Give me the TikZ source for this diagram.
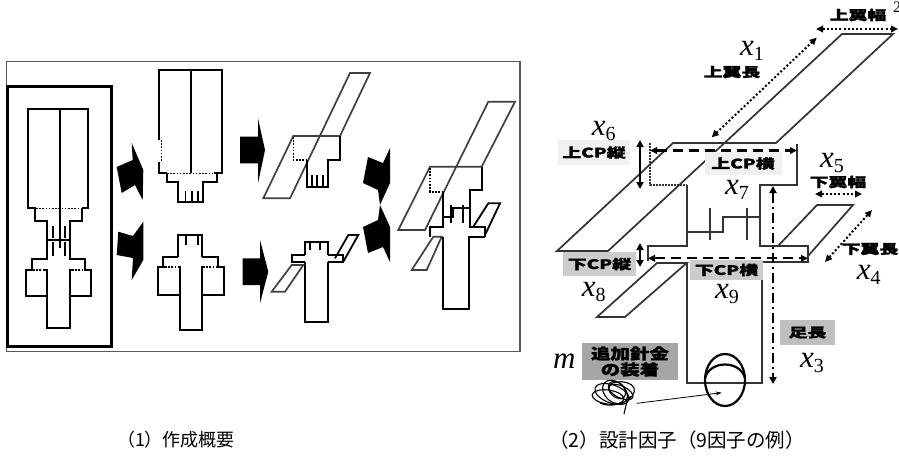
\documentclass[tikz,border=0pt]{standalone}
\usepackage{fontspec}
\setmainfont{Liberation Serif}
\newfontfamily\jp{Noto Sans CJK JP}
\newfontfamily\jpb{Noto Sans CJK JP}[BoldFeatures={FakeBold=1.6}]
\usetikzlibrary{arrows.meta}

% bold, widened Japanese label text
\newcommand\lbltxt[1]{\scalebox{1.45}[1]{\jpb\bfseries\fontsize{13}{13}\selectfont #1}}
\newcommand\biglbl[1]{\scalebox{1.3}[1]{\jpb\bfseries\fontsize{15}{15}\selectfont #1}}
% design variable x_i
\newcommand\xvar[1]{{\fontsize{31}{31}\selectfont\itshape x\raisebox{-5pt}{\fontsize{20}{20}\selectfont\upshape #1}}}

\tikzset{
  paper/.style={draw=black, line width=1.8, line join=miter},
  fold/.style={draw=black, line width=1.6, dash pattern=on 1.6pt off 1.6pt},
  wingln/.style={draw=black!75, line width=1.7},
  blk/.style={fill=black},
  body/.style={draw=black!80, line width=1.7},
  hid/.style={draw=black!80, line width=1.5, dash pattern=on 1.6pt off 1.4pt},
  dimdot/.style={line width=2, dash pattern=on 2pt off 2.2pt, <->, >={Triangle[length=7pt,width=6.5pt]}},
  dimdash/.style={line width=2.2, dash pattern=on 10pt off 6pt, <->, >={Triangle[length=7pt,width=6.5pt]}},
  dimsolid/.style={line width=2.2, <->, >={Triangle[length=7pt,width=7pt]}},
  dimchain/.style={line width=2.2, dash pattern=on 10pt off 4pt on 2pt off 4pt, <->, >={Triangle[length=7pt,width=7pt]}},
  tagbox/.style={inner sep=0pt, minimum height=#1},
}

\begin{document}
\begin{tikzpicture}[x=1pt, y=-1pt]
\useasboundingbox (0,0) rectangle (899,459);
\fill[white] (0,0) rectangle (899,459);

% ---------------- (1) overview panel ----------------
\draw[black!65, line width=1.2] (6.7,61.7) rectangle (520,351.7);
\draw[black, line width=3] (7.5,86.7) rectangle (111.7,346.7);

% unfolded sheet
\draw[paper] (36,208.3) -- (28.3,208.3) -- (28.3,109.3) -- (88.3,109.3) -- (88.3,208.3) -- (82,208.3);
\draw[fold] (36,208.3) -- (82,208.3);
\draw[paper] (60,109.3) -- (60,248);
\draw[paper] (35,208.3) -- (35,221) -- (46.7,221) -- (46.7,240) -- (70,240) -- (70,221) -- (81.7,221) -- (81.7,208.3);
\draw[paper] (46.7,240) -- (46.7,259.3) -- (31.7,259.3) -- (31.7,270);
\draw[paper] (70,240) -- (70,259.3) -- (85,259.3) -- (85,270);
\draw[paper] (33,270) -- (26,270) -- (26,296) -- (46.7,296) -- (46.7,270) -- (44,270);
\draw[fold] (33,270) -- (44,270);
\draw[paper] (84,270) -- (90.7,270) -- (90.7,296) -- (70,296) -- (70,270) -- (72,270);
\draw[fold] (72,270) -- (84,270);
\draw[paper] (46.7,296) -- (46.7,328.3) -- (70,328.3) -- (70,296);
\draw[paper] (53,226) -- (53,238) (65,226) -- (65,238) (53,242) -- (53,256) (65,242) -- (65,256);

% upper piece, cut out
\draw[paper] (159,140) -- (159,70) -- (221.7,70) -- (221.7,173.3) -- (214,173.3);
\draw[paper] (159,162) -- (159,173.3) -- (167,173.3);
\draw[fold] (161.5,140) -- (161.5,162);
\draw[fold] (167,173.3) -- (214,173.3);
\draw[paper] (191,70) -- (191,173.3);
\draw[paper] (166.7,173.3) -- (166.7,181.7) -- (178.3,181.7) -- (178.3,202) -- (203.3,202) -- (203.3,181.7) -- (216.7,181.7) -- (216.7,173.3);
\draw[paper] (185.5,191) -- (185.5,202) (191.7,191) -- (191.7,202) (198.3,191) -- (198.3,202);

% lower piece, cut out
\draw[paper] (178.3,256.7) -- (178.3,235) -- (201.7,235) -- (201.7,256.7);
\draw[paper] (178.3,256.7) -- (163.3,256.7) -- (163.3,266.7);
\draw[paper] (201.7,256.7) -- (218.3,256.7) -- (218.3,266.7);
\draw[paper] (165,266.7) -- (158.3,266.7) -- (158.3,295) -- (180,295) -- (180,266.7) -- (178,266.7);
\draw[fold] (165,266.7) -- (178,266.7);
\draw[paper] (217,266.7) -- (224,266.7) -- (224,295) -- (201.7,295) -- (201.7,266.7) -- (203,266.7);
\draw[fold] (203,266.7) -- (217,266.7);
\draw[paper] (180,295) -- (180,330) -- (201.7,330) -- (201.7,295);
\draw[paper] (186,235) -- (186,245) (198,235) -- (198,245);

% upper piece, folded
\draw[wingln] (370,73) -- (340,136) -- (293.3,136) -- (263.3,198.3) -- (290,198.3) -- (350,73) -- cycle;
\draw[paper] (340,136) -- (340,160) -- (328.3,160) -- (328.3,186.7) -- (306.7,186.7) -- (306.7,160);
\draw[fold] (293.3,137) -- (293.3,160) -- (306.7,160);
\draw[paper] (311.7,175) -- (311.7,186.7) (316.7,175) -- (316.7,186.7) (323.3,175) -- (323.3,186.7);

% lower piece, folded
\draw[paper] (305,255) -- (305,241.7) -- (328.3,241.7) -- (328.3,255);
\draw[paper] (305,255) -- (291.7,255) -- (291.7,261.7) -- (305,261.7);
\draw[paper] (305,261.7) -- (305,321.7) -- (328.3,321.7) -- (328.3,261.7);
\draw[paper] (328.3,255) -- (343,255) -- (343,261.7) -- (328.3,261.7);
\draw[wingln] (291.7,265) -- (303.3,265) -- (285,291.7) -- (271.7,291.7) -- cycle;
\draw[paper] (335,258.3) -- (348.3,235) -- (358.3,235) -- (343.3,261.7);
\draw[paper] (310,241.7) -- (310,250) (320,241.7) -- (320,250);

% assembled model
\draw[wingln] (515,101.7) -- (481.7,166.7) -- (430,166.7) -- (398.3,230) -- (425,230) -- (488.3,101.7) -- cycle;
\draw[paper] (481.7,166.7) -- (481.7,190) -- (470,190) -- (470,226.7) -- (485,226.7) -- (485,236.7);
\draw[fold] (430,168) -- (430,191.7) -- (443.3,191.7);
\draw[paper] (443.3,191.7) -- (443.3,226.7) -- (430,226.7) -- (430,236.7);
\draw[paper] (443.3,216.7) -- (453.3,216.7) -- (453.3,208.3) -- (470,208.3);
\draw[paper] (450.7,205) -- (450.7,223.3) (462.7,205) -- (462.7,223.3);
\draw[paper] (443.3,236.7) -- (443.3,309.3) -- (469.3,309.3) -- (469.3,236.7) -- (485,236.7);
\draw[wingln] (433.3,236.7) -- (441.7,236.7) -- (426.7,270) -- (411.7,270) -- cycle;
\draw[paper] (473.3,226.7) -- (488.3,203.3) -- (500,203.3) -- (485,235);

% block arrows
\fill[blk] (116.7,167) -- (132.7,160) -- (131.7,143) -- (143.3,170) -- (142.7,200) -- (135,185) -- (121.7,193) -- cycle;
\fill[blk] (118.3,231.7) -- (133,236) -- (143.3,221.7) -- (143.3,260) -- (131.7,280) -- (133,258) -- (116.7,255) -- cycle;
\fill[blk] (240,136.7) -- (258,136.7) -- (258,118.3) -- (265,150) -- (258,183.3) -- (258,163.3) -- (240,163.3) -- cycle;
\fill[blk] (242.7,258.3) -- (260,258.3) -- (260,240) -- (268.3,271.7) -- (260,303.3) -- (260,285) -- (242.7,285) -- cycle;
\fill[blk] (368,157) -- (383,163) -- (390,148) -- (390,183) -- (380,205) -- (378,190) -- (363,183) -- cycle;
\fill[blk] (363,227) -- (378,220) -- (380,205) -- (390,227) -- (390,262) -- (383,247) -- (368,253) -- cycle;

% ---------------- (2) design factors ----------------
% upper wing and upper chest plate
\draw[body] (893,34) -- (776,143) -- (673,143) -- (557,251) -- (608,251) -- (842,34) -- cycle;
\draw[body] (797,144) -- (797,185) -- (760,185) -- (760,246) -- (808,246) -- (808,261.7) -- (761.7,261.7);
\draw[hid] (650,143) -- (650,185) -- (686.7,185);
\draw[body] (686.7,185) -- (686.7,246) -- (648,246) -- (648,261);
% slits in the body
\draw[body] (686.7,231.7) -- (723,231.7) -- (723,216.7) -- (760,216.7);
\draw[body] (710,208) -- (710,240) (746.7,208) -- (746.7,240);
% lower wings
\draw[body] (778,246) -- (817,205) -- (853,205) -- (808,256);
\draw[body] (657,263) -- (686.7,263) -- (625,317) -- (597,317) -- cycle;
% leg
\draw[body] (686.7,263) -- (686.7,383) -- (761.7,383) -- (761.7,261.7);
% wire loop on the leg
\draw[line width=2.2] (725,380) ellipse [x radius=20, y radius=26];
\draw[line width=2.2] (705,378) .. controls (710,360) and (740,360) .. (745,378);

% dimension arrows
\coordinate (a1s) at (711.7,137.3); \coordinate (a1e) at (816.7,37.7);
\coordinate (a2s) at (816,29);      \coordinate (a2e) at (898,29);
\coordinate (a5s) at (815,194);     \coordinate (a5e) at (862,194);
\coordinate (a4s) at (825,262);     \coordinate (a4e) at (872,210);
\coordinate (a7s) at (650,150.5);   \coordinate (a7e) at (797,150.5);
\coordinate (a9s) at (648,258.3);   \coordinate (a9e) at (808,258.3);
\coordinate (a6s) at (640,140);     \coordinate (a6e) at (640,189);
\coordinate (a8s) at (640,243);     \coordinate (a8e) at (640,267);
\coordinate (a3s) at (773,186);     \coordinate (a3e) at (773,384);
\draw[dimdot] (a1s) -- (a1e);
\draw[dimdot] (a2s) -- (a2e);
\draw[dimdot] (a5s) -- (a5e);
\draw[dimdot] (a4s) -- (a4e);
\draw[dimdash] (a7s) -- (a7e);
\draw[dimdash] (a9s) -- (a9e);
\draw[dimsolid] (a6s) -- (a6e);
\draw[dimsolid] (a8s) -- (a8e);
\draw[dimchain] (a3s) -- (a3e);

% labels
\node (t2) at (858,15) {\lbltxt{上翼幅}};
\node[anchor=base] (t2x) at (897,12) {\fontsize{16}{16}\selectfont 2};
\node (t1) at (732,72) {\lbltxt{上翼長}};
\node[fill=black!6, tagbox=25pt, minimum width=72pt] (t6) at (594,152.5) {\lbltxt{上CP縦}};
\node[fill=black!6, tagbox=23pt, minimum width=77pt] (t7) at (743,163.5) {\lbltxt{上CP横}};
\node (t5) at (838,182) {\lbltxt{下翼幅}};
\node (t4) at (870,249) {\lbltxt{下翼長}};
\node[fill=black!20, tagbox=24pt, minimum width=73pt] (t8) at (599.5,264) {\lbltxt{下CP縦}};
\node[fill=black!20, tagbox=20pt, minimum width=73pt] (t9) at (726.5,270) {\lbltxt{下CP横}};
\node[fill=black!25, tagbox=25pt, minimum width=55pt] (t3) at (807.5,332.5) {\lbltxt{足長}};
\node[fill=black!35, tagbox=37pt, minimum width=96pt, align=center,
      font=\fontsize{15}{16}\selectfont] (tm) at (630,361.5)
  {\biglbl{追加針金}\\\biglbl{の装着}};

\node[anchor=base west, inner sep=0pt] (x1) at (740,55) {\xvar{1}};
\node[anchor=base west, inner sep=0pt] (x6) at (591.7,135) {\xvar{6}};
\node[anchor=base west, inner sep=0pt] (x5) at (820,167) {\xvar{5}};
\node[anchor=base west, inner sep=0pt] (x7) at (725,194) {\xvar{7}};
\node[anchor=base west, inner sep=0pt] (x4) at (856.7,279.3) {\xvar{4}};
\node[anchor=base west, inner sep=0pt] (x8) at (581.7,296.7) {\xvar{8}};
\node[anchor=base west, inner sep=0pt] (x9) at (715,298) {\xvar{9}};
\node[anchor=base west, inner sep=0pt] (x3) at (800,367) {\xvar{3}};
\node[anchor=base west, inner sep=0pt] (xm) at (553,368.3) {\fontsize{31}{31}\selectfont\itshape m};

% extra wire coil
\begin{scope}[line width=1.1]
  \draw (612,394) ellipse [x radius=18, y radius=9, rotate=-20];
  \draw (615,392) ellipse [x radius=14, y radius=10, rotate=-40];
  \draw (608,397) ellipse [x radius=16, y radius=7, rotate=-8];
  \draw (617,390) ellipse [x radius=10, y radius=7, rotate=-45];
  \draw (621,392) ellipse [x radius=13, y radius=6, rotate=-25];
  \draw (611,393) .. controls (600,380) and (630,378) .. (634,388) .. controls (638,398) and (615,410) .. (600,403);
  \draw (627,398) -- (631.7,396.7) (627,401) -- (624,414);
  \coordinate (coil) at (636.7,403.3);
  \coordinate (loop) at (721.7,392.7);
\end{scope}
\draw[line width=0.8, -{Stealth[length=6pt,width=4pt]}] (coil) -- (loop);

% captions
\node (cap1) at (176,440) {\jp\fontsize{18}{18}\selectfont （1）作成概要};
\node (cap2) at (677,440) {\jp\fontsize{19.5}{19.5}\selectfont （2）設計因子（9因子の例）};
\end{tikzpicture}
\end{document}
